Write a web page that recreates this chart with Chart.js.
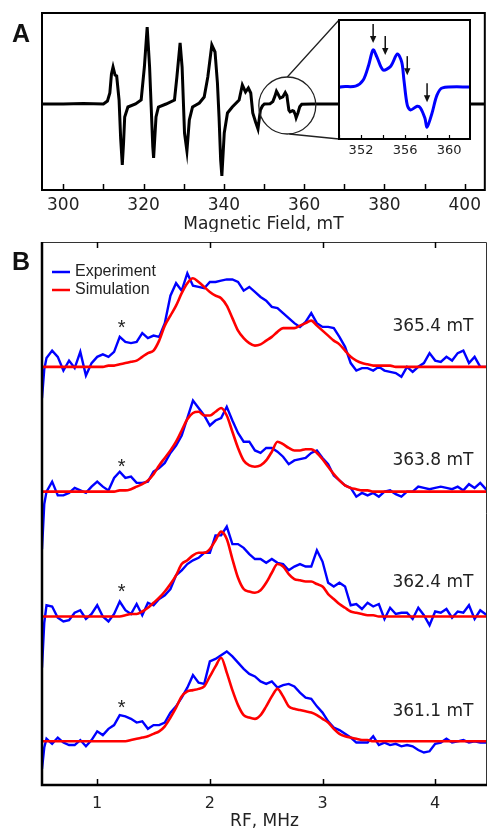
<!DOCTYPE html>
<html>
<head>
<meta charset="utf-8">
<title>EPR and ENDOR spectra</title>
<script src="https://cdn.jsdelivr.net/npm/chart.js@4.4.1/dist/chart.umd.min.js"></script>
<style>
  html, body { margin: 0; padding: 0; background: #ffffff; }
  #figure { position: relative; width: 488px; height: 829px; overflow: hidden; }
  #figure canvas { position: absolute; }
  #epr { left: 0; top: 0; }
  #inset { left: 330px; top: 15px; }
  #endor { left: 0; top: 232px; }
</style>
</head>
<body>
<div id="figure">
  <canvas id="epr" width="488" height="232"></canvas>
  <canvas id="inset" width="150" height="150"></canvas>
  <canvas id="endor" width="488" height="597"></canvas>
</div>
<script>
const Chart = window.Chart;

// ---------- panel A: EPR spectrum (first derivative) ----------
const fieldMT = [294.7, 300, 305, 310, 311.0, 311.6, 312.0, 312.4, 312.9, 313.3,
  313.9, 314.3, 314.7, 315.0, 315.3, 316.1, 318.0, 319.4, 320.2, 320.9,
  321.5, 321.9, 322.3, 322.5, 323.1, 323.7, 325.6, 327.7, 328.3, 329.1,
  329.6, 329.9, 330.2, 330.8, 331.4, 332.2, 333.9, 335.1, 336.0, 337.0,
  337.8, 338.4, 338.8, 339.2, 339.5, 340.1, 340.9, 342.1, 343.8, 344.6,
  345.4, 346.1, 346.7, 347.2, 347.9, 348.5, 349.1, 349.6, 350.1, 351.5,
  352.2, 352.7, 353.1, 353.45, 354.0, 354.7, 355.3, 355.7, 355.9, 356.2,
  356.5, 357.1, 357.4, 357.8, 358.0, 358.45, 358.9, 359.4, 361.9, 370,
  380, 390, 405];
const eprSignal = [0, 0, 0.005, 0, 0.03, 0.11, 0.30, 0.37, 0.29, 0.28,
  0.04, -0.35, -0.61, -0.40, -0.13, -0.03, 0, 0.04, 0.37, 0.77,
  0.37, -0.03, -0.43, -0.54, -0.13, -0.03, 0, 0.04, 0.27, 0.61,
  0.37, 0.04, -0.29, -0.47, -0.16, -0.03, 0.01, 0.07, 0.27, 0.59,
  0.52, 0.21, -0.13, -0.56, -0.72, -0.29, -0.09, -0.03, 0.04, 0.19,
  0.12, 0.16, 0.11, -0.09, -0.18, -0.25, -0.06, -0.02, 0, 0.003,
  0.024, 0.076, 0.128, 0.103, 0.059, 0.072, 0.114, 0.086, 0.024, -0.062,
  -0.079, -0.066, -0.072, -0.107, -0.138, -0.09, -0.028, -0.003, 0, 0,
  0, 0, 0];

// arrows in the inset: field (mT) and signal level of the arrow tip
const arrowField = [353.1, 354.2, 356.2, 358.0];
const arrowTip = [0.152, 0.110, 0.041, -0.052];

// ---------- panel B: ENDOR spectra ----------
const rfMHz = [0.51, 0.53, 0.55, 0.60, 0.65, 0.70, 0.75, 0.80, 0.85, 0.90,
  0.95, 1.00, 1.05, 1.10, 1.15, 1.20, 1.25, 1.30, 1.35, 1.40,
  1.45, 1.50, 1.55, 1.60, 1.65, 1.70, 1.75, 1.80, 1.85, 1.90,
  1.95, 2.00, 2.05, 2.10, 2.15, 2.20, 2.25, 2.30, 2.35, 2.40,
  2.45, 2.50, 2.55, 2.60, 2.65, 2.70, 2.75, 2.80, 2.85, 2.90,
  2.95, 3.00, 3.05, 3.10, 3.15, 3.20, 3.25, 3.30, 3.35, 3.40,
  3.45, 3.50, 3.55, 3.60, 3.65, 3.70, 3.75, 3.80, 3.85, 3.90,
  3.95, 4.00, 4.05, 4.10, 4.15, 4.20, 4.25, 4.30, 4.35, 4.40,
  4.46];

const fieldLabels = ['365.4 mT', '363.8 mT', '362.4 mT', '361.1 mT'];

const exp3654 = [-0.25, -0.02, 0.07, 0.13, 0.08, -0.03, 0.05, -0.01, 0.12, -0.07,
  0.03, 0.08, 0.10, 0.08, 0.12, 0.24, 0.20, 0.19, 0.20, 0.27,
  0.23, 0.25, 0.24, 0.35, 0.57, 0.67, 0.61, 0.75, 0.65, 0.64,
  0.63, 0.68, 0.68, 0.69, 0.70, 0.70, 0.68, 0.61, 0.64, 0.60,
  0.56, 0.53, 0.48, 0.47, 0.43, 0.39, 0.35, 0.32, 0.36, 0.43,
  0.35, 0.32, 0.32, 0.31, 0.24, 0.16, 0.03, -0.03, -0.01, -0.01,
  -0.03, 0.00, -0.03, -0.04, -0.05, -0.08, 0.00, -0.04, 0.00, 0.03,
  0.11, 0.05, 0.04, 0.08, 0.05, 0.11, 0.13, 0.03, 0.08, 0.00,
  0.00];
const sim3654 = [0, 0, 0, 0, 0, 0, 0, 0, 0, 0,
  0, 0, 0, 0.01, 0.01, 0.02, 0.03, 0.04, 0.05, 0.08,
  0.11, 0.13, 0.21, 0.33, 0.41, 0.49, 0.59, 0.67, 0.71, 0.68,
  0.64, 0.60, 0.57, 0.55, 0.49, 0.39, 0.29, 0.23, 0.19, 0.17,
  0.18, 0.21, 0.24, 0.28, 0.31, 0.31, 0.31, 0.33, 0.35, 0.37,
  0.33, 0.29, 0.25, 0.21, 0.18, 0.13, 0.08, 0.05, 0.03, 0.02,
  0.01, 0.01, 0.01, 0.01, 0, 0, 0, 0, 0, 0,
  0, 0, 0, 0, 0, 0, 0, 0, 0, 0,
  0];

const exp3638 = [-0.46, -0.10, 0.00, 0.08, -0.03, -0.03, -0.01, 0.03, 0.01, -0.01,
  0.04, 0.08, 0.04, 0.01, 0.11, 0.16, 0.11, 0.12, 0.07, 0.07,
  0.08, 0.16, 0.19, 0.23, 0.31, 0.37, 0.45, 0.59, 0.73, 0.67,
  0.61, 0.53, 0.57, 0.59, 0.68, 0.57, 0.47, 0.40, 0.40, 0.33,
  0.31, 0.35, 0.35, 0.32, 0.28, 0.22, 0.25, 0.26, 0.27, 0.31,
  0.33, 0.27, 0.22, 0.13, 0.09, 0.05, 0.03, -0.04, -0.01, -0.03,
  -0.01, -0.04, 0.00, 0.01, -0.02, -0.04, 0.00, 0.00, 0.04, 0.03,
  0.02, 0.03, 0.04, 0.03, 0.02, 0.04, 0.01, 0.06, 0.03, 0.07,
  0.01];
const sim3638 = [0, 0, 0, 0, 0, 0, 0, 0, 0, 0,
  0, 0, 0, 0, 0, 0.01, 0.01, 0.02, 0.04, 0.06,
  0.09, 0.14, 0.21, 0.27, 0.33, 0.40, 0.49, 0.58, 0.63, 0.64,
  0.61, 0.61, 0.64, 0.67, 0.61, 0.48, 0.35, 0.25, 0.21, 0.20,
  0.21, 0.25, 0.32, 0.40, 0.38, 0.35, 0.33, 0.33, 0.34, 0.34,
  0.31, 0.26, 0.20, 0.14, 0.09, 0.05, 0.03, 0.02, 0.01, 0.01,
  0, 0, 0, 0, 0, 0, 0, 0, 0, 0,
  0, 0, 0, 0, 0, 0, 0, 0, 0, 0,
  0];

const exp3624 = [-0.41, -0.05, 0.09, 0.08, -0.01, -0.04, -0.03, 0.03, 0.05, -0.02,
  0.02, 0.09, 0.00, -0.04, 0.02, 0.12, 0.05, 0.02, 0.10, 0.01,
  0.11, 0.09, 0.14, 0.17, 0.22, 0.33, 0.37, 0.42, 0.45, 0.47,
  0.51, 0.51, 0.65, 0.65, 0.72, 0.58, 0.58, 0.55, 0.50, 0.46,
  0.46, 0.43, 0.46, 0.43, 0.42, 0.37, 0.40, 0.42, 0.40, 0.40,
  0.53, 0.44, 0.27, 0.24, 0.27, 0.24, 0.09, 0.10, 0.06, 0.11,
  0.08, 0.10, -0.02, 0.07, 0.02, 0.03, 0.03, -0.02, 0.07, 0.01,
  -0.07, 0.04, 0.03, 0.06, -0.01, 0.04, 0.03, 0.09, -0.02, 0.05,
  0.01];
const sim3624 = [0, 0, 0, 0, 0, 0, 0, 0, 0, 0,
  0, 0, 0, 0, 0, 0, 0.01, 0.02, 0.02, 0.04,
  0.07, 0.11, 0.15, 0.20, 0.26, 0.33, 0.42, 0.45, 0.49, 0.51,
  0.51, 0.54, 0.61, 0.68, 0.62, 0.46, 0.31, 0.22, 0.20, 0.19,
  0.21, 0.27, 0.35, 0.42, 0.40, 0.34, 0.30, 0.29, 0.28, 0.28,
  0.26, 0.24, 0.18, 0.14, 0.10, 0.07, 0.04, 0.03, 0.02, 0.01,
  0.01, 0, 0, 0, 0, 0, 0, 0, 0, 0,
  0, 0, 0, 0, 0, 0, 0, 0, 0, 0,
  0];

const exp3611 = [-0.22, -0.05, 0.02, -0.02, 0.03, -0.01, -0.03, -0.03, 0.01, -0.04,
  0.01, 0.08, 0.05, 0.10, 0.13, 0.21, 0.20, 0.18, 0.15, 0.16,
  0.10, 0.13, 0.13, 0.15, 0.23, 0.28, 0.35, 0.43, 0.53, 0.47,
  0.46, 0.64, 0.66, 0.69, 0.72, 0.68, 0.63, 0.58, 0.54, 0.52,
  0.48, 0.46, 0.48, 0.43, 0.45, 0.46, 0.44, 0.39, 0.35, 0.34,
  0.28, 0.23, 0.16, 0.11, 0.09, 0.06, 0.03, -0.01, -0.01, -0.01,
  0.04, -0.03, -0.01, -0.03, -0.02, -0.04, -0.03, -0.04, -0.07, -0.09,
  -0.08, -0.02, -0.01, 0.02, -0.01, 0.00, 0.01, -0.01, 0.00, -0.01,
  -0.01];
const sim3611 = [0, 0, 0, 0, 0, 0, 0, 0, 0, 0,
  0, 0, 0, 0, 0, 0, 0, 0.01, 0.02, 0.03,
  0.04, 0.06, 0.08, 0.12, 0.19, 0.27, 0.36, 0.40, 0.41, 0.42,
  0.44, 0.52, 0.60, 0.67, 0.55, 0.41, 0.29, 0.21, 0.19, 0.18,
  0.21, 0.28, 0.36, 0.42, 0.36, 0.28, 0.26, 0.25, 0.24, 0.23,
  0.21, 0.18, 0.15, 0.10, 0.06, 0.04, 0.03, 0.02, 0.01, 0.01,
  0, 0, 0, 0, 0, 0, 0, 0, 0, 0,
  0, 0, 0, 0, 0, 0, 0, 0, 0, 0,
  0];

const expSpectra = [exp3654, exp3638, exp3624, exp3611];
const simSpectra = [sim3654, sim3638, sim3624, sim3611];
const traceOffset = [3, 2, 1, 0];

// ---------- layout / style (not data) ----------
const insetBox = {left: 339, top: 20, right: 470, bottom: 139};
const labelLift = [0.32, 0.25, 0.27, 0.24];
const starLift = [0.355, 0.24, 0.24, 0.31];
const textColor = '#222';
const sansWide = 'DejaVu Sans, Verdana, sans-serif';
const sansArial = '"Liberation Sans", Arial, sans-serif';

function axisFont(size) {
    return {family: sansWide, size: size, lineHeight: 1};
}

//panel A decorations: box, inner ticks, magnifier circle
const eprDecor = {
    id: 'eprDecor',
    afterDraw(chart) {
        const {ctx, chartArea: a, scales: {x, y}} = chart;
        ctx.save();
        ctx.strokeStyle = '#000';
        ctx.lineWidth = 2;
        ctx.strokeRect(a.left, a.top, a.right - a.left, a.bottom - a.top);

        ctx.lineWidth = 1.5;
        ctx.beginPath();
        x.ticks.forEach(t => {
            const px = Math.round(x.getPixelForValue(t.value)) + 0.5;
            ctx.moveTo(px, a.bottom);
            ctx.lineTo(px, a.bottom - 6);
        });
        ctx.stroke();

        const cx = x.getPixelForValue(355.8);
        const cy = y.getPixelForValue(-0.015);
        const r = 28.5;
        ctx.strokeStyle = '#222';
        ctx.lineWidth = 1.3;
        ctx.beginPath();
        ctx.arc(cx, cy, r, 0, Math.PI * 2);
        ctx.stroke();
        ctx.beginPath();
        ctx.moveTo(cx, cy - r);
        ctx.lineTo(insetBox.left, insetBox.top);
        ctx.moveTo(cx + 2, cy + r);
        ctx.lineTo(insetBox.left, insetBox.bottom);
        ctx.stroke();

        ctx.fillStyle = '#111';
        ctx.font = 'bold 25px ' + sansArial;
        ctx.textAlign = 'left';
        ctx.textBaseline = 'alphabetic';
        ctx.fillText('A', 12, 42);
        ctx.restore();
    }
};

//inset decorations: white plot area, box, ticks, arrows
const insetDecor = {
    id: 'insetDecor',
    beforeDraw(chart) {
        const {ctx, chartArea: a} = chart;
        ctx.save();
        ctx.fillStyle = '#fff';
        ctx.fillRect(a.left, a.top, a.right - a.left, a.bottom - a.top);
        ctx.restore();
    },
    afterDraw(chart) {
        const {ctx, chartArea: a, scales: {x, y}} = chart;
        ctx.save();
        ctx.strokeStyle = '#000';
        ctx.lineWidth = 2;
        ctx.strokeRect(a.left, a.top, a.right - a.left, a.bottom - a.top);
        ctx.lineWidth = 1.2;
        ctx.beginPath();
        x.ticks.forEach(t => {
            const px = Math.round(x.getPixelForValue(t.value)) + 0.5;
            ctx.moveTo(px, a.bottom);
            ctx.lineTo(px, a.bottom - 4);
        });
        ctx.stroke();

        ctx.strokeStyle = '#111';
        ctx.fillStyle = '#111';
        ctx.lineWidth = 1.5;
        arrowField.forEach((f, i) => {
            const px = x.getPixelForValue(f);
            const tip = y.getPixelForValue(arrowTip[i]);
            ctx.beginPath();
            ctx.moveTo(px, tip - 19);
            ctx.lineTo(px, tip - 5);
            ctx.stroke();
            ctx.beginPath();
            ctx.moveTo(px - 3.2, tip - 7);
            ctx.lineTo(px + 3.2, tip - 7);
            ctx.lineTo(px, tip);
            ctx.closePath();
            ctx.fill();
        });
        ctx.restore();
    }
};

//panel B decorations: box, ticks, labels, asterisks, legend
const endorDecor = {
    id: 'endorDecor',
    afterDraw(chart) {
        const {ctx, chartArea: a, scales: {x, y}} = chart;
        ctx.save();
        ctx.strokeStyle = '#333';
        ctx.lineWidth = 1;
        ctx.beginPath();
        ctx.moveTo(a.left, a.top + 0.5);
        ctx.lineTo(a.right - 0.5, a.top + 0.5);
        ctx.lineTo(a.right - 0.5, a.bottom);
        ctx.stroke();

        ctx.strokeStyle = '#000';
        ctx.lineWidth = 2.5;
        ctx.beginPath();
        ctx.moveTo(a.left, a.top);
        ctx.lineTo(a.left, a.bottom);
        ctx.lineTo(a.right, a.bottom);
        ctx.stroke();

        ctx.lineWidth = 1.5;
        ctx.beginPath();
        x.ticks.forEach(t => {
            const px = Math.round(x.getPixelForValue(t.value)) + 0.5;
            ctx.moveTo(px, a.bottom);
            ctx.lineTo(px, a.bottom - 6);
            ctx.moveTo(px, a.top);
            ctx.lineTo(px, a.top + 6);
        });
        ctx.stroke();

        ctx.fillStyle = textColor;
        ctx.font = '17px ' + sansWide;
        ctx.textAlign = 'right';
        ctx.textBaseline = 'middle';
        fieldLabels.forEach((label, i) => {
            ctx.fillText(label, x.getPixelForValue(4.34), y.getPixelForValue(traceOffset[i] + labelLift[i]));
        });

        ctx.font = '20px ' + sansArial;
        ctx.textAlign = 'center';
        ctx.textBaseline = 'alphabetic';
        traceOffset.forEach((off, i) => {
            ctx.fillText('*', x.getPixelForValue(1.217), y.getPixelForValue(off + starLift[i]) + 11);
        });

        // legend
        const rows = [['Experiment', '#0000ff', 40], ['Simulation', '#ff0000', 58]];
        ctx.font = '16px ' + sansArial;
        ctx.textAlign = 'left';
        ctx.textBaseline = 'middle';
        rows.forEach(([text, colour, ly]) => {
            ctx.strokeStyle = colour;
            ctx.lineWidth = 2.5;
            ctx.beginPath();
            ctx.moveTo(52, ly);
            ctx.lineTo(70, ly);
            ctx.stroke();
            ctx.fillStyle = textColor;
            ctx.fillText(text, 75, ly);
        });

        ctx.fillStyle = '#111';
        ctx.font = 'bold 25px ' + sansArial;
        ctx.textBaseline = 'alphabetic';
        ctx.fillText('B', 12, 38);
        ctx.restore();
    }
};

const commonOptions = {
    responsive: false,
    animation: false,
    events: [],
    plugins: {legend: {display: false}, tooltip: {enabled: false}}
};

const eprPoints = fieldMT.map((f, i) => ({x: f, y: eprSignal[i]}));

// panel A
const eprChart = new Chart(document.getElementById('epr'), {
    type: 'line',
    data: {
        datasets: [{
            data: eprPoints,
            borderColor: '#000',
            borderWidth: 3,
            pointRadius: 0,
            tension: 0
        }]
    },
    options: {
        ...commonOptions,
        layout: {padding: {left: 42, top: 13, right: 1, bottom: 0}},
        scales: {
            x: {
                type: 'linear', min: 294.7, max: 405,
                grid: {display: false, drawTicks: false},
                border: {display: false},
                ticks: {
                    stepSize: 10, includeBounds: false, autoSkip: false, maxRotation: 0,
                    padding: 7, color: textColor, font: axisFont(17),
                    callback: v => (v % 20 === 0 ? v : '')
                },
                title: {display: true, text: 'Magnetic Field, mT', color: textColor, font: axisFont(17), padding: {top: 0, bottom: -1}},
                afterFit: s => { s.height = 42; }
            },
            y: {display: false, min: -0.86, max: 0.91}
        }
    },
    plugins: [eprDecor]
});

// inset of panel A
const insetChart = new Chart(document.getElementById('inset'), {
    type: 'line',
    data: {
        datasets: [{
            data: eprPoints,
            borderColor: '#0000ff',
            borderWidth: 3,
            pointRadius: 0,
            tension: 0.3
        }]
    },
    options: {
        ...commonOptions,
        layout: {padding: {left: insetBox.left - 330, top: insetBox.top - 15, right: 330 + 150 - insetBox.right, bottom: 0}},
        scales: {
            x: {
                type: 'linear', min: 350, max: 361.9,
                grid: {display: false, drawTicks: false},
                border: {display: false},
                ticks: {
                    stepSize: 2, includeBounds: false, autoSkip: false, maxRotation: 0,
                    padding: 5, color: textColor, font: axisFont(13),
                    callback: v => (v % 4 === 0 ? v : '')
                },
                afterFit: s => { s.height = 15 + 150 - insetBox.bottom; }
            },
            y: {display: false, min: -0.179, max: 0.231}
        }
    },
    plugins: [insetDecor]
});

// panel B: simulation drawn over experiment
function tracePoints(values, offset) {
    return rfMHz.map((f, i) => ({x: f, y: values[i] + offset}));
}

const endorSets = [];
traceOffset.forEach((off, i) => {
    endorSets.push({
        label: 'Simulation ' + fieldLabels[i],
        data: tracePoints(simSpectra[i], off),
        borderColor: '#ff0000',
        borderWidth: 2.6,
        pointRadius: 0,
        cubicInterpolationMode: 'monotone',
        order: 0
    });
    endorSets.push({
        label: 'Experiment ' + fieldLabels[i],
        data: tracePoints(expSpectra[i], off),
        borderColor: '#0000ff',
        borderWidth: 2.4,
        pointRadius: 0,
        tension: 0,
        order: 1
    });
});

const endorChart = new Chart(document.getElementById('endor'), {
    type: 'line',
    data: {datasets: endorSets},
    options: {
        ...commonOptions,
        layout: {padding: {left: 42, top: 10, right: 1, bottom: 0}},
        scales: {
            x: {
                type: 'linear', min: 0.51, max: 4.46,
                grid: {display: false, drawTicks: false},
                border: {display: false},
                ticks: {
                    stepSize: 1, includeBounds: false, autoSkip: false, maxRotation: 0,
                    padding: 11, color: textColor, font: axisFont(16)
                },
                title: {display: true, text: 'RF, MHz', color: textColor, font: axisFont(17), padding: {top: 0, bottom: -1}},
                afterFit: s => { s.height = 44; }
            },
            y: {display: false, min: -0.35, max: 4.0}
        }
    },
    plugins: [endorDecor]
});
</script>
</body>
</html>
